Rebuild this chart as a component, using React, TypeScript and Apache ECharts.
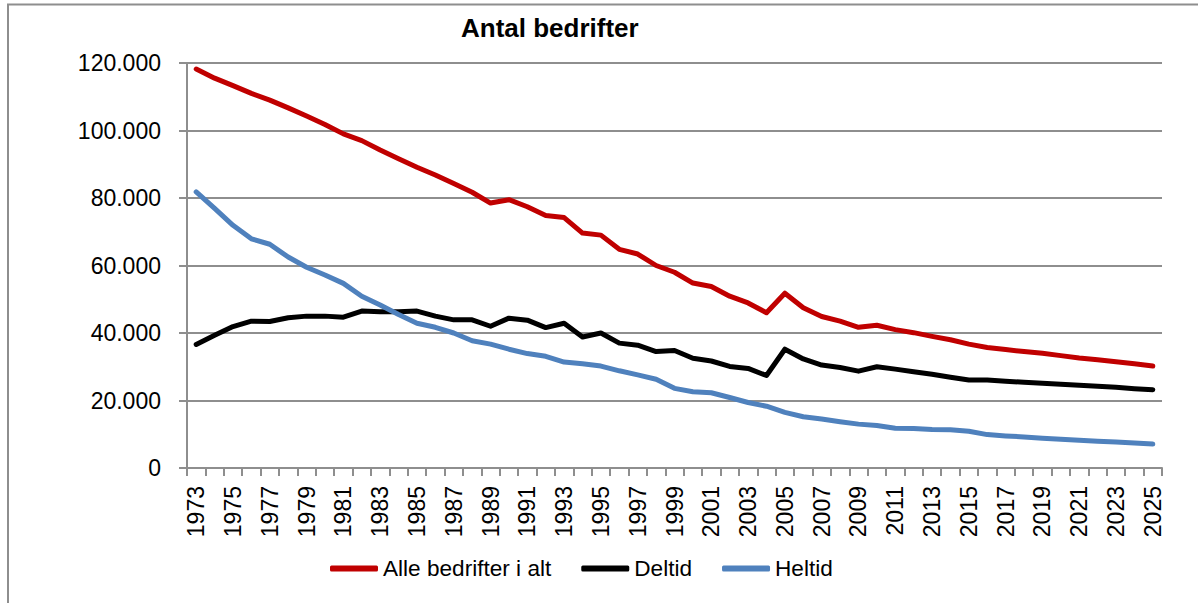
import React, { useEffect, useRef } from "react";
import * as echarts from "echarts";

const years: string[] = [];
for (let y = 1973; y <= 2025; y++) years.push(String(y));

const alleBedrifter = [
  118200, 115500, 113300, 111000, 109000, 106700, 104300, 101800, 99000, 97000,
  94200, 91600, 89100, 86800, 84300, 81700, 78500, 79500, 77400, 74800,
  74200, 69600, 69000, 64800, 63400, 60000, 58000, 54800, 53800, 50900,
  48900, 46000, 51800, 47500, 44900, 43500, 41700, 42300, 41000, 40100,
  39000, 38000, 36700, 35700, 35100, 34500, 34000, 33300, 32600, 32100,
  31500, 30900, 30200,
];

const deltid = [
  36600, 39300, 41900, 43500, 43400, 44500, 45000, 45000, 44700, 46500,
  46300, 46300, 46500, 45000, 43900, 43900, 42000, 44400, 43800, 41600,
  42900, 38800, 40000, 37000, 36400, 34500, 34800, 32500, 31700, 30100,
  29500, 27400, 35200, 32300, 30500, 29800, 28700, 30000, 29300, 28500,
  27800, 26900, 26100, 26100, 25700, 25400, 25100, 24800, 24500, 24200,
  23900, 23500, 23200,
];

const heltid = [
  81800, 76900, 71900, 67900, 66300, 62500, 59500, 57200, 54700, 50900,
  48300, 45500, 42900, 41700, 40000, 37700, 36700, 35200, 33900, 33100,
  31400, 30900, 30200, 28800, 27600, 26300, 23600, 22600, 22300, 20900,
  19400, 18300, 16500, 15200, 14500, 13700, 13000, 12600, 11800, 11700,
  11400, 11300, 10900, 9900, 9500, 9200, 8800, 8500, 8200, 7900,
  7700, 7400, 7100,
];

const seriesNames = ["Alle bedrifter i alt", "Deltid", "Heltid"];
const titleText = "Antal bedrifter";

const FONT = "Liberation Sans, Arial, sans-serif";

function fmt(v: number): string {
  return String(Math.round(v)).replace(/\B(?=(\d{3})+(?!\d))/g, ".");
}

export default function App() {
  const ref = useRef<HTMLDivElement>(null);
  useEffect(() => {
    document.body.style.margin = "0";
    if (!ref.current) return;
    const chart = echarts.init(ref.current, null, { renderer: "svg" });
    const gridColor = "#8e8e8e";
    chart.setOption({
      animation: false,
      backgroundColor: "#ffffff",
      textStyle: { fontFamily: FONT },
      title: {
        text: titleText,
        left: 461,
        top: 15,
        padding: 0,
        textStyle: { fontFamily: FONT, fontWeight: "bold", fontSize: 26, color: "#000" },
      },
      graphic: [
        {
          type: "polyline",
          shape: { points: [[8, 603], [8, 4.5], [1198, 4.5]] },
          style: { stroke: gridColor, lineWidth: 2, fill: null },
          silent: true,
        },
      ],
      legend: {
        left: 330,
        top: 557,
        padding: 0,
        itemWidth: 48,
        itemHeight: 6,
        itemGap: 30,
        icon: "roundRect",
        textStyle: { fontFamily: FONT, fontSize: 22.6, color: "#000" },
        data: seriesNames,
      },
      grid: { left: 187, right: 36, top: 63, bottom: 135, containLabel: false },
      xAxis: {
        type: "category",
        data: years,
        boundaryGap: true,
        axisLine: { show: true, lineStyle: { color: gridColor, width: 2 } },
        axisTick: { show: true, interval: 0, length: 8, lineStyle: { color: gridColor, width: 2 } },
        axisLabel: {
          interval: 1,
          rotate: 90,
          margin: 18,
          fontFamily: FONT,
          fontSize: 23,
          color: "#000",
        },
      },
      yAxis: {
        type: "value",
        min: 0,
        max: 120000,
        interval: 20000,
        axisLine: { show: true, lineStyle: { color: gridColor, width: 2 } },
        axisTick: { show: true, length: 8, lineStyle: { color: gridColor, width: 2 } },
        splitLine: { show: true, lineStyle: { color: gridColor, width: 2 } },
        axisLabel: {
          margin: 26,
          fontFamily: FONT,
          fontSize: 23,
          color: "#000",
          formatter: (v: number) => fmt(v),
        },
      },
      series: [
        {
          name: seriesNames[0],
          type: "line",
          data: alleBedrifter,
          showSymbol: false,
          symbol: "none",
          color: "#C00000",
          lineStyle: { width: 5, color: "#C00000", cap: "round", join: "round" },
        },
        {
          name: seriesNames[1],
          type: "line",
          data: deltid,
          showSymbol: false,
          symbol: "none",
          color: "#000000",
          lineStyle: { width: 5, color: "#000000", cap: "round", join: "round" },
        },
        {
          name: seriesNames[2],
          type: "line",
          data: heltid,
          showSymbol: false,
          symbol: "none",
          color: "#4F81BD",
          lineStyle: { width: 5, color: "#4F81BD", cap: "round", join: "round" },
        },
      ],
    });
    return () => chart.dispose();
  }, []);
  return <div ref={ref} style={{ width: 1198, height: 603 }} />;
}
